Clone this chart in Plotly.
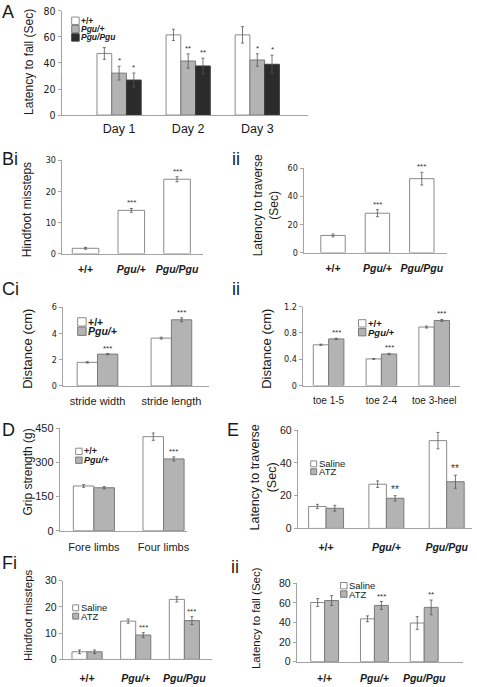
import plotly.graph_objects as go

W, H = 477, 687

# ---------------- DATA ----------------
# Panel A : latency to fall (rotarod)
a_cats = ["Day 1", "Day 2", "Day 3"]
a_wt = [47.3, 61.6, 61.6]
a_wt_err = [4.5, 4.3, 6.3]
a_het = [32.2, 41.5, 42.3]
a_het_err = [5.3, 5.5, 4.8]
a_hom = [26.9, 37.7, 39.0]
a_hom_err = [5.4, 6.0, 7.0]
a_het_sig = ["*", "**", "*"]
a_hom_sig = ["*", "**", "*"]
a_yticks = [0, 20, 40, 60, 80]
a_legend = ["+/+", "Pgu/+", "Pgu/Pgu"]

# Panel Bi / Bii
genotypes = ["+/+", "Pgu/+", "Pgu/Pgu"]
bi_vals = [1.7, 13.9, 23.9]
bi_err = [0.3, 0.6, 0.8]
bi_sig = ["", "***", "***"]
bi_yticks = [0, 10, 20, 30]
bii_vals = [12.2, 28.0, 52.5]
bii_err = [1.0, 2.5, 4.5]
bii_sig = ["", "***", "***"]
bii_yticks = [0, 20, 40, 60]

# Panel Ci
ci_cats = ["stride width", "stride length"]
ci_wt = [1.8, 3.65]
ci_wt_err = [0.05, 0.07]
ci_het = [2.43, 5.05]
ci_het_err = [0.04, 0.15]
ci_sig = ["***", "***"]
ci_yticks = [0, 2, 4, 6]
c_legend = ["+/+", "Pgu/+"]

# Panel Cii
cii_cats = ["toe 1-5", "toe 2-4", "toe 3-heel"]
cii_wt = [0.62, 0.405, 0.89]
cii_wt_err = [0.01, 0.006, 0.015]
cii_het = [0.71, 0.48, 0.99]
cii_het_err = [0.01, 0.01, 0.015]
cii_sig = ["***", "***", "***"]
cii_yticks = [0, 0.4, 0.8, 1.2]
cii_yticktext = ["0", "0.4", "0.8", "1.2"]

# Panel D
d_cats = ["Fore limbs", "Four limbs"]
d_wt = [197, 414]
d_wt_err = [6, 16]
d_het = [189, 316]
d_het_err = [5, 9]
d_sig = ["", "***"]
d_yticks = [0, 150, 300, 450]

# Panel E
e_saline = [13.4, 27.0, 53.6]
e_saline_err = [1.3, 2.0, 5.0]
e_atz = [12.3, 18.4, 28.5]
e_atz_err = [1.8, 1.6, 4.0]
e_sig = ["", "**", "**"]
e_yticks = [0, 20, 40, 60]
treat_legend = ["Saline", "ATZ"]

# Panel Fi
fi_saline = [2.9, 14.6, 22.9]
fi_saline_err = [0.7, 0.8, 1.0]
fi_atz = [2.9, 9.3, 14.8]
fi_atz_err = [0.7, 0.9, 1.5]
fi_sig = ["", "***", "***"]
fi_yticks = [0, 10, 20, 30]

# Panel Fii
fii_saline = [60.5, 43.8, 39.5]
fii_saline_err = [4.0, 3.0, 6.5]
fii_atz = [62.5, 57.5, 55.5]
fii_atz_err = [5.0, 4.0, 7.5]
fii_sig = ["", "***", "**"]
fii_yticks = [0, 20, 40, 60, 80]

# ---------------- STYLE ----------------
WHITE = ("#ffffff", "#8a8a8a")
GRAY = ("#b3b3b3", "#7a7a7a")
BLACK = ("#2b2b2b", "#3c3c3c")
AXIS = "#a3a3a3"
ERR = "#555555"
TXT = "#1a1a1a"
ARIAL = "Liberation Sans, Arial, sans-serif"
NARROW = "Liberation Sans Narrow, Arial Narrow, DejaVu Sans Condensed, Liberation Sans, Arial"


def geno_fmt(s):
    if s.startswith("Pgu"):
        return "<b><i>%s</i></b>" % s
    return "<b>%s</b>" % s


def px_x(p):
    return p / W


def px_y(p):
    return 1 - p / H


fig = go.Figure()
annotations = []
shapes = []


def add_panel(n, xpx, ypx, xr, yticks, ticktext_y, cats, series, gw,
              ytickfont, xtickfont, standoff, sigfont=8):
    xa = "x" if n == 1 else "x%d" % n
    ya = "y" if n == 1 else "y%d" % n
    k = len(series)
    bw = gw / k
    xs = list(range(len(cats)))
    for j, s in enumerate(series):
        off = -gw / 2 + j * bw
        fill, line = s["color"]
        fig.add_trace(go.Bar(
            x=xs, y=s["vals"], width=bw, offset=off,
            marker=dict(color=fill, line=dict(color=line, width=1)),
            error_y=dict(type="data", array=s["err"], color=ERR,
                         thickness=0.8, width=1.5),
            xaxis=xa, yaxis=ya, showlegend=False, hoverinfo="skip"))
        for i, sig in enumerate(s.get("sig", [])):
            if sig:
                annotations.append(dict(
                    x=i + off + bw / 2, y=s["vals"][i] + s["err"][i],
                    xref=xa, yref=ya, text=sig, showarrow=False,
                    yanchor="bottom", xanchor="center", yshift=-1,
                    font=dict(size=sigfont, color="#333333", family=ARIAL)))
    key = "" if n == 1 else str(n)
    fig.layout["xaxis" + key] = dict(
        domain=[px_x(xpx[0]), px_x(xpx[1])], range=xr, anchor=ya,
        showline=True, linecolor=AXIS, linewidth=1, ticks="",
        tickvals=xs, ticktext=cats, showgrid=False, zeroline=False,
        tickfont=xtickfont, ticklabelstandoff=standoff, fixedrange=True)
    fig.layout["yaxis" + key] = dict(
        domain=[px_y(ypx[0]), px_y(ypx[1])],
        range=[0, yticks[-1]], anchor=xa,
        showline=True, linecolor=AXIS, linewidth=1, ticks="outside",
        ticklen=3, tickcolor=AXIS, tickvals=yticks,
        ticktext=ticktext_y if ticktext_y else [str(v) for v in yticks],
        showgrid=False, zeroline=False, tickfont=ytickfont, fixedrange=True)


def add_legend(xpx, ypx_rows, size, labels, colors, font):
    for lab, yc, col in zip(labels, ypx_rows, colors):
        shapes.append(dict(type="rect", xref="paper", yref="paper",
                           x0=px_x(xpx), x1=px_x(xpx + size),
                           y0=px_y(yc + size / 2), y1=px_y(yc - size / 2),
                           fillcolor=col[0], line=dict(color=col[1], width=1)))
        annotations.append(dict(x=px_x(xpx + size + 1), y=px_y(yc), xref="paper",
                                yref="paper", text=lab, showarrow=False,
                                xanchor="left", yanchor="middle",
                                borderpad=0, font=font))


def ytitle(xpx, ypx, text, size=12):
    annotations.append(dict(x=px_x(xpx), y=px_y(ypx), xref="paper", yref="paper",
                            text=text, showarrow=False, textangle=-90,
                            xanchor="center", yanchor="middle",
                            font=dict(size=size, color=TXT, family=ARIAL)))


def plabel(xpx, ypx, text):
    annotations.append(dict(x=px_x(xpx), y=px_y(ypx), xref="paper", yref="paper",
                            text=text, showarrow=False, xanchor="left",
                            yanchor="top",
                            font=dict(size=18, color=TXT, family=ARIAL)))


tick_narrow = dict(size=9, color=TXT, family=NARROW)
tick_arial = dict(size=11, color=TXT, family=ARIAL)
geno_font = dict(size=10.5, color=TXT, family=ARIAL)

# Panel A
add_panel(1, (62, 309), (111, 5), [-0.83, 2.73], a_yticks, None, a_cats,
          [dict(vals=a_wt, err=a_wt_err, color=WHITE),
           dict(vals=a_het, err=a_het_err, color=GRAY, sig=a_het_sig),
           dict(vals=a_hom, err=a_hom_err, color=BLACK, sig=a_hom_sig)],
          0.64, dict(size=10.5, color=TXT, family=NARROW),
          dict(size=12.5, color=TXT, family=ARIAL), 2)
add_legend(72, [15, 23.5, 32], 7.5, [geno_fmt(s) for s in a_legend],
           [WHITE, GRAY, BLACK], dict(size=8.5, color=TXT, family=ARIAL))
ytitle(29, 57, "Latency to fall (Sec)", 12)
plabel(0, -6, "A")

# Panel Bi
add_panel(2, (62, 204), (252, 157), [-0.52, 2.57], bi_yticks, None,
          [geno_fmt(g) for g in genotypes],
          [dict(vals=bi_vals, err=bi_err, color=WHITE, sig=bi_sig)],
          0.58, tick_narrow, geno_font, 6)
ytitle(28, 207, "Hindfoot missteps", 12)
plabel(0, 144, "Bi")

# Panel Bii
add_panel(3, (305, 449), (251, 165), [-0.66, 2.57], bii_yticks, None,
          [geno_fmt(g) for g in genotypes],
          [dict(vals=bii_vals, err=bii_err, color=WHITE, sig=bii_sig)],
          0.55, tick_narrow, geno_font, 6)
ytitle(268, 203, "Latency to traverse<br>(Sec)", 12)
plabel(231, 144, "ii")

# Panel Ci
add_panel(4, (63, 210), (386.7, 306.7), [-0.47, 1.51], ci_yticks, None, ci_cats,
          [dict(vals=ci_wt, err=ci_wt_err, color=WHITE),
           dict(vals=ci_het, err=ci_het_err, color=GRAY, sig=ci_sig)],
          0.55, tick_narrow, dict(size=11, color=TXT, family=ARIAL), 5)
add_legend(78, [321.5, 331], 8.5, [geno_fmt(s) for s in c_legend],
           [WHITE, GRAY], dict(size=10.5, color=TXT, family=ARIAL))
ytitle(28, 349, "Distance (cm)", 13)
plabel(0, 276, "Ci")

# Panel Cii
add_panel(5, (304, 462), (386.3, 306), [-0.49, 2.49], cii_yticks, cii_yticktext,
          cii_cats,
          [dict(vals=cii_wt, err=cii_wt_err, color=WHITE),
           dict(vals=cii_het, err=cii_het_err, color=GRAY, sig=cii_sig)],
          0.58, tick_narrow, dict(size=10, color=TXT, family=ARIAL), 5)
add_legend(360, [323, 332], 7.5, [geno_fmt(s) for s in c_legend],
           [WHITE, GRAY], dict(size=9.5, color=TXT, family=ARIAL))
ytitle(268, 349, "Distance (cm)", 13)
plabel(231, 276, "ii")

# Panel D
add_panel(6, (60, 188), (534, 430), [-0.49, 1.34], d_yticks, None, d_cats,
          [dict(vals=d_wt, err=d_wt_err, color=WHITE),
           dict(vals=d_het, err=d_het_err, color=GRAY, sig=d_sig)],
          0.59, tick_arial, dict(size=11, color=TXT, family=ARIAL), 6)
add_legend(76, [453.3, 462.3], 6.5, [geno_fmt(s) for s in c_legend],
           [WHITE, GRAY], dict(size=9, color=TXT, family=ARIAL))
ytitle(28, 474, "Grip strength (g)", 12)
plabel(0, 419, "D")

# Panel E
add_panel(7, (299, 474), (531.7, 431.7), [-0.47, 2.42], e_yticks, None,
          [geno_fmt(g) for g in genotypes],
          [dict(vals=e_saline, err=e_saline_err, color=WHITE),
           dict(vals=e_atz, err=e_atz_err, color=GRAY, sig=e_sig)],
          0.58, dict(size=10.5, color=TXT, family=ARIAL), geno_font, 9, sigfont=10)
add_legend(312, [466, 474], 6, treat_legend, [WHITE, GRAY],
           dict(size=9.5, color=TXT, family=ARIAL))
ytitle(264, 480, "Latency to traverse<br>(Sec)", 12.5)
plabel(226, 419, "E")

# Panel Fi
add_panel(8, (63, 213), (665, 585), [-0.5, 2.57], fi_yticks, None,
          [geno_fmt(g) for g in genotypes],
          [dict(vals=fi_saline, err=fi_saline_err, color=WHITE),
           dict(vals=fi_atz, err=fi_atz_err, color=GRAY, sig=fi_sig)],
          0.62, dict(size=10.5, color=TXT, family=ARIAL), geno_font, 9)
add_legend(73, [612.5, 621], 6, treat_legend, [WHITE, GRAY],
           dict(size=9.5, color=TXT, family=ARIAL))
ytitle(28, 620, "Hindfoot missteps", 11.5)
plabel(0, 555, "Fi")

# Panel Fii
add_panel(9, (298, 465), (667.3, 587.7), [-0.56, 2.78], fii_yticks, None,
          [geno_fmt(g) for g in genotypes],
          [dict(vals=fii_saline, err=fii_saline_err, color=WHITE),
           dict(vals=fii_atz, err=fii_atz_err, color=GRAY, sig=fii_sig)],
          0.56, dict(size=10.5, color=TXT, family=ARIAL), geno_font, 7)
add_legend(342, [590, 598.5], 6.5, treat_legend, [WHITE, GRAY],
           dict(size=9.5, color=TXT, family=ARIAL))
ytitle(257, 623, "Latency to fall (Sec)", 11.5)
plabel(230, 559, "ii")

fig.update_layout(
    width=W, height=H, autosize=False,
    margin=dict(l=0, r=0, t=0, b=0),
    paper_bgcolor="white", plot_bgcolor="rgba(0,0,0,0)",
    barmode="overlay", showlegend=False,
    annotations=annotations, shapes=shapes,
    font=dict(family=ARIAL, color=TXT),
)

fig.write_html("out.html", config=dict(displayModeBar=False),
               post_script="document.body.style.margin='0';"
                           "document.body.style.overflow='hidden';")
